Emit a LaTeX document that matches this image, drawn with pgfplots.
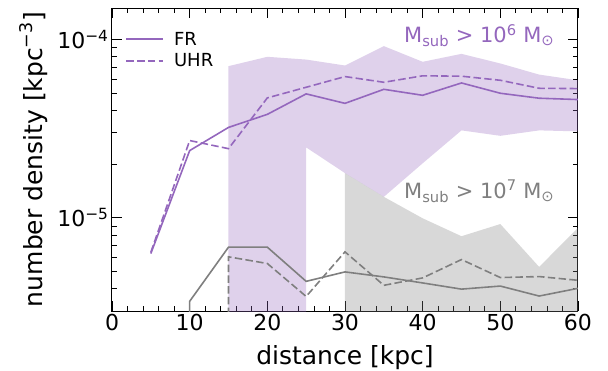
\documentclass[border=0pt]{standalone}
\usepackage{fontspec}
\setmainfont{DejaVu Sans}
\usepackage{pgfplots}
\pgfplotsset{compat=1.18}
\definecolor{tpurple}{RGB}{148,103,189}
\definecolor{tgray}{RGB}{127,127,127}
\begin{document}
\begin{tikzpicture}
\useasboundingbox (-112pt,-60pt) rectangle (496pt,311pt);
\begin{axis}[
  at={(0pt,0pt)}, anchor=south west,
  scale only axis, width=466pt, height=303pt,
  xmin=0, xmax=60, ymode=log, ymin=3e-6, ymax=1.5e-4,
  xtick={0,10,...,60}, minor x tick num=4,
  ytick={1e-5,1e-4},
  yticklabels={10\textsuperscript{−5},10\textsuperscript{−4}},
  minor ytick={3e-6,4e-6,5e-6,6e-6,7e-6,8e-6,9e-6,2e-5,3e-5,4e-5,5e-5,6e-5,7e-5,8e-5,9e-5},
  tick align=inside, tick pos=both,
  major tick length=10pt, minor tick length=5pt,
  every tick/.style={black, line width=0.8pt},
  axis line style={line width=1pt},
  /pgf/number format/assume math mode=true,
  ticklabel style={font=\fontsize{22}{26}\selectfont},
  xlabel={distance [kpc]},
  ylabel={number density [kpc\textsuperscript{−3}]},
  label style={font=\fontsize{25}{30}\selectfont},
  xlabel style={at={(axis description cs:0.5,-0.1749)}, anchor=base},
  ylabel style={at={(axis description cs:-0.1502,0.5)}, anchor=base},
  legend style={draw=none, fill=none, at={(0.022,0.935)}, anchor=north west,
    font=\fontsize{18}{21}\selectfont, row sep=3pt},
  legend cell align=left,
]
% bands
\addplot[fill=tpurple, fill opacity=0.3, draw=none, forget plot] coordinates {
 (15,1e-7)(15,7.08e-5)(20,7.99e-5)(25,7.71e-5)(30,7.14e-5)(35,9.17e-5)(40,7.49e-5)(45,8.30e-5)(50,7.33e-5)(55,6.35e-5)(60,5.90e-5)
 (60,3.05e-5)(55,3.09e-5)(50,2.88e-5)(45,3.09e-5)(40,2.02e-5)(35,1.31e-5)(30,1.78e-5)(25,2.48e-5)(25,1e-7)} -- cycle;
\addplot[fill=tgray, fill opacity=0.3, draw=none, forget plot] coordinates {
 (30,1e-7)(30,1.78e-5)(35,1.31e-5)(40,9.93e-6)(45,7.88e-6)(50,9.22e-6)(55,5.30e-6)(60,8.79e-6)(60,1e-7)} -- cycle;
% purple lines
\addplot[tpurple, line width=1.6pt,
  legend image code/.code={\draw[tpurple, line width=1.6pt] (0pt,0pt) -- (37pt,0pt); \path (45pt,0pt);}] coordinates {
 (5,6.3e-6)(10,2.38e-5)(15,3.21e-5)(20,3.80e-5)(25,4.95e-5)(30,4.38e-5)(35,5.25e-5)(40,4.86e-5)(45,5.70e-5)(50,4.99e-5)(55,4.68e-5)(60,4.60e-5)};
\addlegendentry{FR}
\addplot[tpurple, line width=1.6pt, dash pattern=on 7.5pt off 3.3pt,
  legend image code/.code={\draw[tpurple, line width=1.6pt, dash pattern=on 7.5pt off 3.3pt] (0pt,0pt) -- (37pt,0pt); \path (45pt,0pt);}] coordinates {
 (5,6.4e-6)(10,2.71e-5)(15,2.44e-5)(20,4.70e-5)(25,5.39e-5)(30,6.19e-5)(35,5.75e-5)(40,6.25e-5)(45,6.22e-5)(50,5.90e-5)(55,5.32e-5)(60,5.30e-5)};
\addlegendentry{UHR}
% gray lines
\addplot[tgray, line width=1.6pt, forget plot] coordinates {
 (10,1e-7)(10,3.40e-6)(15,6.84e-6)(20,6.84e-6)(25,4.40e-6)(30,4.97e-6)(35,4.66e-6)(40,4.31e-6)(45,3.98e-6)(50,4.14e-6)(55,3.64e-6)(60,4.02e-6)};
\addplot[tgray, line width=1.6pt, dash pattern=on 7.5pt off 3.3pt, forget plot] coordinates {
 (15,1e-7)(15,6.04e-6)(20,5.54e-6)(25,3.62e-6)(30,6.44e-6)(35,4.18e-6)(40,4.60e-6)(45,5.83e-6)(50,4.62e-6)(55,4.68e-6)(60,4.46e-6)};
\node[anchor=base east, text=tpurple, font=\fontsize{21}{24}\selectfont] at (axis cs:57.4,9.58e-5)
  {M\textsubscript{sub} > 10\textsuperscript{6} M\textsubscript{⊙}};
\node[anchor=base east, text=tgray, font=\fontsize{21}{24}\selectfont] at (axis cs:57.4,1.285e-5)
  {M\textsubscript{sub} > 10\textsuperscript{7} M\textsubscript{⊙}};
\end{axis}
\end{tikzpicture}
\end{document}
